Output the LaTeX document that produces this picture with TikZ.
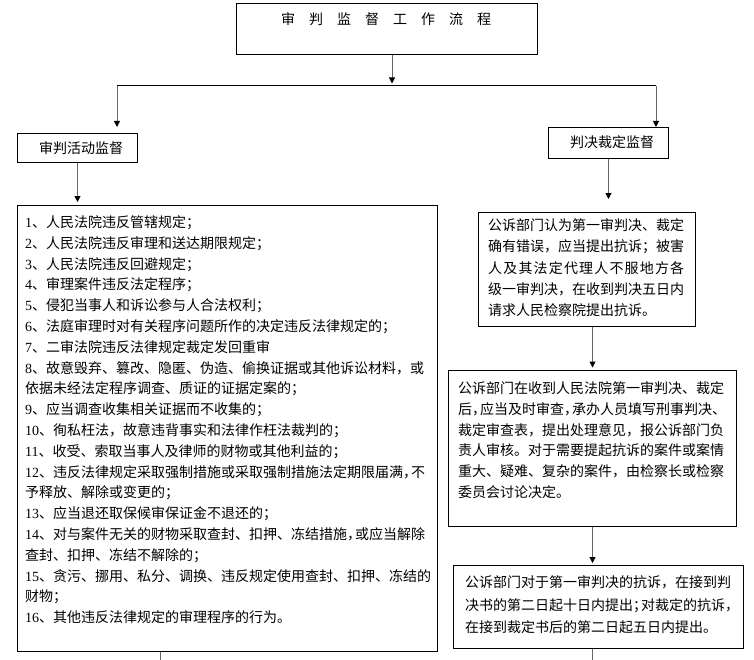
\documentclass[tikz,border=0pt]{standalone}
\usepackage{fontspec}
\setmainfont{Noto Sans CJK SC}
\newfontfamily\digf{Liberation Serif}
\usetikzlibrary{arrows.meta,calc}
\newcommand\nm[1]{{\digf #1}}
\newcommand\cpu[1]{\makebox[8bp][l]{#1}}
\begin{document}
\begin{tikzpicture}[x=1bp,y=-1bp,
  box/.style={draw,line width=1bp,inner sep=0pt,anchor=north west},
  txt/.style={inner sep=0pt,anchor=north west,align=left,font=\fontsize{14bp}{20.8bp}\selectfont},
  lbl/.style={inner sep=0pt,font=\fontsize{14bp}{16bp}\selectfont},
  arr/.style={draw=black!60,line width=1bp,-{Triangle[length=6bp,width=6bp,color=black]}},
  stubline/.style={draw=black!60,line width=1bp},
  hline/.style={draw=black,line width=1bp}]
\useasboundingbox (0,0) rectangle (754,660);

% boxes
\node[box,minimum width=301bp,minimum height=51bp] (title) at (236,3) {};
\node[box,minimum width=120bp,minimum height=29bp] (lbox) at (17,133) {};
\node[box,minimum width=120bp,minimum height=31bp] (rbox) at (548,127) {};
\node[box,minimum width=420bp,minimum height=446bp] (list) at (17,205) {};
\node[box,minimum width=217bp,minimum height=114bp] (b1) at (478,212) {};
\node[box,minimum width=288bp,minimum height=156bp] (b2) at (448,370) {};
\node[box,minimum width=290bp,minimum height=83bp] (b3) at (453,565) {};

% texts
\node[lbl] (titletext) at (386,19) {审\quad 判\quad 监\quad 督\quad 工\quad 作\quad 流\quad 程};
\node[lbl] (ltext) at (81,148) {审判活动监督};
\node[lbl] (rtext) at (612,142) {判决裁定监督};

\node[txt] (listtext) at (25,215.5) {%
\nm{1}、人民法院违反管辖规定；\\
\nm{2}、人民法院违反审理和送达期限规定；\\
\nm{3}、人民法院违反回避规定；\\
\nm{4}、审理案件违反法定程序；\\
\nm{5}、侵犯当事人和诉讼参与人合法权利；\\
\nm{6}、法庭审理时对有关程序问题所作的决定违反法律规定的；\\
\nm{7}、二审法院违反法律规定裁定发回重审\\
\nm{8}、故意毁弃、篡改、隐匿、伪造、偷换证据或其他诉讼材料，或\\
依据未经法定程序调查、质证的证据定案的；\\
\nm{9}、应当调查收集相关证据而不收集的；\\
\nm{10}、徇私枉法，故意违背事实和法律作枉法裁判的；\\
\nm{11}、收受、索取当事人及律师的财物或其他利益的；\\
\nm{12}、违反法律规定采取强制措施或采取强制措施法定期限届满\cpu{，}不\\
予释放、解除或变更的；\\
\nm{13}、应当退还取保候审保证金不退还的；\\
\nm{14}、对与案件无关的财物采取查封、扣押、冻结措施\cpu{，}或应当解除\\
查封、扣押、冻结不解除的；\\
\nm{15}、贪污、挪用、私分、调换、违反规定使用查封、扣押、冻结的\\
财物；\\
\nm{16}、其他违反法律规定的审理程序的行为。};

\node[txt,font=\fontsize{14bp}{21.25bp}\selectfont] (b1text) at (488,218.5) {%
公诉部门认为第一审判决、裁定\\
确有错误，应当提出抗诉；被害\\
\hbox to 196bp{人\hfill 及\hfill 其\hfill 法\hfill 定\hfill 代\hfill 理\hfill 人\hfill 不\hfill 服\hfill 地\hfill 方\hfill 各}\\
级一审判决，在收到判决五日内\\
请求人民检察院提出抗诉。};

\node[txt] (b2text) at (458,381.5) {%
公诉部门在收到人民法院第一审判决、裁定\\
后\cpu{，}应当及时审查\cpu{，}承办人员填写刑事判决、\\
裁定审查表，提出处理意见，报公诉部门负\\
责人审核。对于需要提起抗诉的案件或案情\\
重大、疑难、复杂的案件，由检察长或检察\\
委员会讨论决定。};

\node[txt,font=\fontsize{14bp}{22.5bp}\selectfont] (b3text) at (465,575.5) {%
公诉部门对于第一审判决的抗诉，在接到判\\
决书的第二日起十日内提出\cpu{；}对裁定的抗诉，\\
在接到裁定书后的第二日起五日内提出。};

% connectors
\coordinate (hub) at (392,86);
\coordinate (hl) at (117,86);
\coordinate (hr) at (656,86);
\coordinate (lstubend) at (160,660);
\coordinate (rstubend) at (592,660);

\draw[arr,shorten >=2.5bp] (title.south -| hub) -- (hub);
\draw[hline] (hl) -- (hr);
\draw[arr,shorten >=6bp] (hl) -- (lbox.north -| hl);
\draw[arr] (hr) -- (rbox.north -| hr);
\draw[arr,shorten >=3bp] (lbox.south) -- (list.north -| lbox.south);
\draw[arr,shorten >=13bp] (rbox.south) -- (b1.north -| rbox.south);
\draw[arr,shorten >=2.5bp] (b1.south -| b2.north) -- (b2.north);
\draw[arr,shorten >=2bp] (b2.south) -- (b3.north -| b2.south);
\draw[stubline] (b3.south -| rstubend) -- (rstubend);
\draw[stubline] (list.south -| lstubend) -- (lstubend);
\end{tikzpicture}
\end{document}
